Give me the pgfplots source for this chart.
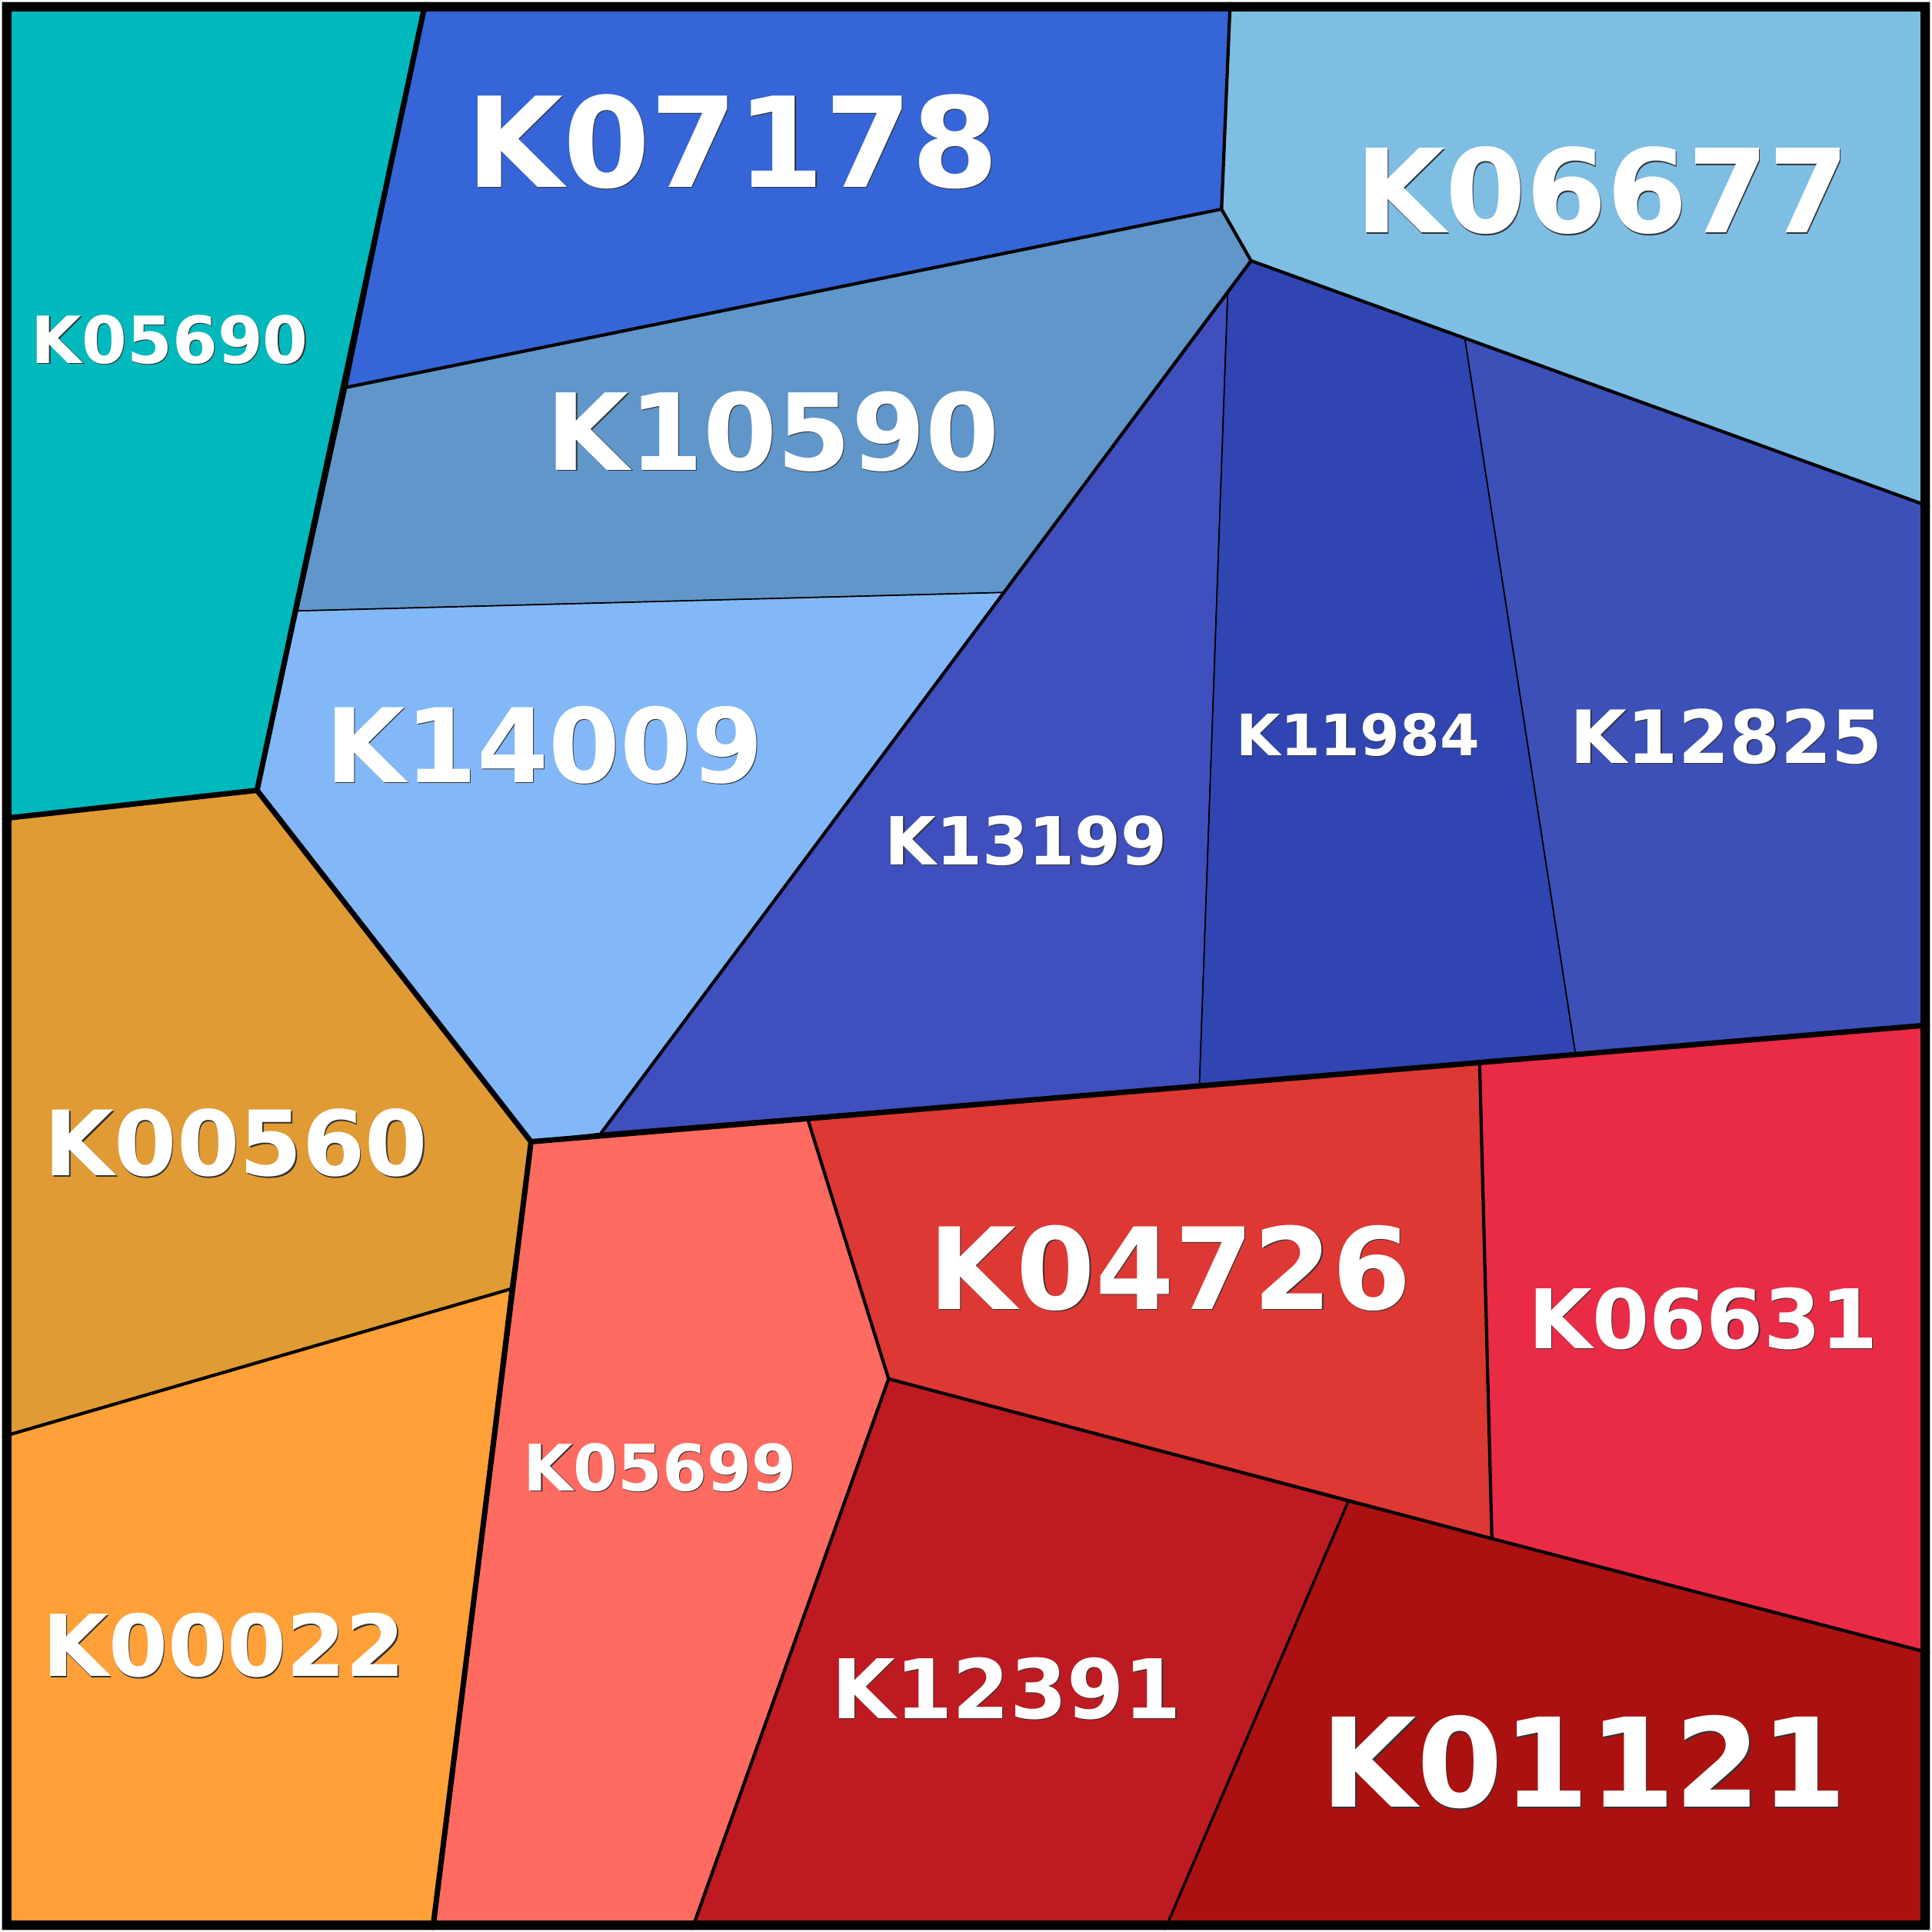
\documentclass[border=0pt]{standalone}
\usepackage{pgfplots}
\pgfplotsset{compat=1.18}
\usepackage{fontspec}
\setmainfont{DejaVu Sans}
\definecolor{cA}{HTML}{00B9BC}
\definecolor{cB}{HTML}{3565D7}
\definecolor{cC}{HTML}{7FBEE3}
\definecolor{cD}{HTML}{6096C9}
\definecolor{cE}{HTML}{83B8F8}
\definecolor{cF}{HTML}{3F4FBD}
\definecolor{cG}{HTML}{3045B2}
\definecolor{cH}{HTML}{3C50B8}
\definecolor{cI}{HTML}{E19B35}
\definecolor{cJ}{HTML}{FFA038}
\definecolor{cK}{HTML}{FF6B60}
\definecolor{cL}{HTML}{DD3834}
\definecolor{cM}{HTML}{EA2B46}
\definecolor{cN}{HTML}{BE1A21}
\definecolor{cO}{HTML}{AA1110}
\newcommand\lab[4]{%
  \node[inner sep=0pt,text=black!80,font=\bfseries\fontsize{#3}{#3}\selectfont] at (axis cs:#1+0.8,#2+0.8) {#4};
  \node[inner sep=0pt,text=white,font=\bfseries\fontsize{#3}{#3}\selectfont] at (axis cs:#1,#2) {#4};}
\begin{document}
\begin{tikzpicture}
\begin{axis}[scale only axis, width=15.68cm, height=15.68cm,
  xmin=0, xmax=1568, ymin=0, ymax=1568, y dir=reverse, hide axis, clip=false]
\pgfplotsset{every axis plot/.append style={draw=black, line width=0.3pt, mark=none}}
% teal
\addplot[fill=cA] coordinates {(0,0) (344,0) (280,313) (240,495) (207,641) (0,664)} -- cycle;
% blue group
\addplot[fill=cB] coordinates {(344,0) (999,0) (992,168) (280,313)} -- cycle;
\addplot[fill=cC] coordinates {(999,0) (1568,0) (1568,410) (1190,273) (1016,210) (992,168)} -- cycle;
\addplot[fill=cD] coordinates {(280,313) (992,168) (1016,210) (815,480) (240,495)} -- cycle;
\addplot[fill=cE] coordinates {(240,495) (815,480) (487,920) (430,927) (207,641)} -- cycle;
\addplot[fill=cF] coordinates {(487,920) (815,480) (997,237) (974,881)} -- cycle;
\addplot[fill=cG] coordinates {(997,237) (1016,210) (1190,273) (1280,855) (974,881)} -- cycle;
\addplot[fill=cH] coordinates {(1190,273) (1568,410) (1568,832) (1280,855)} -- cycle;
% orange group
\addplot[fill=cI] coordinates {(0,664) (207,641) (430,927) (413,1047) (0,1167)} -- cycle;
\addplot[fill=cJ] coordinates {(0,1167) (413,1047) (350,1568) (0,1568)} -- cycle;
% red group
\addplot[fill=cK] coordinates {(430,927) (655,908) (721,1120) (561,1568) (350,1568)} -- cycle;
\addplot[fill=cL] coordinates {(655,908) (1202,862) (1212,1250) (1095,1220) (721,1120)} -- cycle;
\addplot[fill=cM] coordinates {(1202,862) (1568,832) (1568,1343) (1212,1250)} -- cycle;
\addplot[fill=cN] coordinates {(721,1120) (1095,1220) (946,1568) (561,1568)} -- cycle;
\addplot[fill=cO] coordinates {(1095,1220) (1212,1250) (1568,1343) (1568,1568) (946,1568)} -- cycle;
% medium boundaries
\addplot[line width=0.75pt] coordinates {(999,0) (992,168) (1016,210) (1568,410)};
\addplot[line width=0.75pt] coordinates {(280,313) (992,168)};
\addplot[line width=0.75pt] coordinates {(1016,210) (487,920)};
\addplot[line width=0.75pt] coordinates {(0,1167) (413,1047)};
\addplot[line width=0.75pt] coordinates {(655,908) (721,1120) (561,1568)};
\addplot[line width=0.75pt] coordinates {(721,1120) (1212,1250) (1568,1343)};
\addplot[line width=0.75pt] coordinates {(1202,862) (1212,1250)};
\addplot[line width=0.6pt] coordinates {(1095,1220) (946,1568)};
% thick top-level boundaries
\addplot[line width=1.25pt] coordinates {(344,0) (207,641)};
\addplot[line width=1.25pt] coordinates {(0,664) (207,641) (430,927) (1568,832)};
\addplot[line width=1.25pt] coordinates {(430,927) (350,1568)};
% outer frame
\addplot[line width=2pt] coordinates {(3.5,3.5) (1564.5,3.5) (1564.5,1564.5) (3.5,1564.5)} -- cycle;
% labels
\lab{136}{274}{15.07}{K05690}
\lab{594}{113}{29.0}{K07178}
\lab{1302}{153}{26.88}{K06677}
\lab{627}{349}{24.64}{K10590}
\lab{441}{604}{23.82}{K14009}
\lab{833}{682}{15.37}{K13199}
\lab{1103}{596}{13.23}{K11984}
\lab{1403}{597}{17.0}{K12825}
\lab{190}{928}{20.87}{K00560}
\lab{180}{1337}{19.75}{K00022}
\lab{535}{1192}{14.86}{K05699}
\lab{950}{1030}{26.26}{K04726}
\lab{1384}{1071}{19.04}{K06631}
\lab{817}{1372}{19.04}{K12391}
\lab{1287}{1432}{28.61}{K01121}
\end{axis}
\end{tikzpicture}
\end{document}
